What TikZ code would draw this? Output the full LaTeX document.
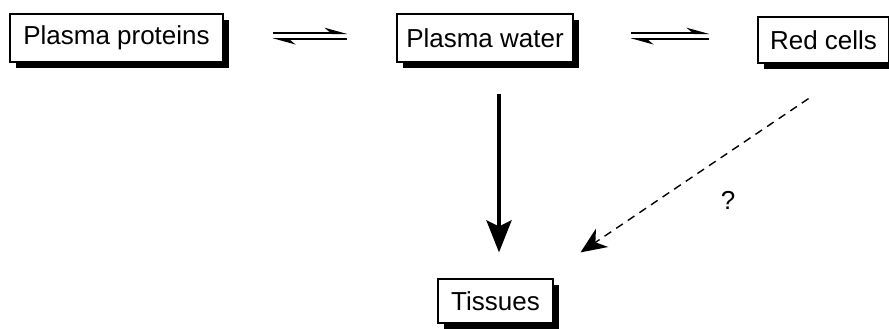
\documentclass[tikz,border=0pt]{standalone}
\usepackage{fontspec}
\setmainfont{Liberation Sans}
\usetikzlibrary{arrows.meta,shadows}

\begin{document}
\begin{tikzpicture}[x=0.5pt,y=-0.5pt,
    box/.style={draw,line width=0.6pt,fill=white,inner sep=0pt,
      font=\fontsize{13}{15}\selectfont,
      general shadow={fill=black,shadow xshift=3pt,shadow yshift=-3pt}},
    eq/.style={line width=0.8pt,-{Stealth[harpoon,length=10pt,width=5.5pt]}},
    flow/.style={line width=2.2pt,-{Stealth[length=16pt,width=12.5pt,inset=3pt]}},
    maybe/.style={line width=0.7pt,dash pattern=on 4pt off 3pt,
      -{Stealth[length=13pt,width=11pt,inset=4pt]}}]
      \useasboundingbox (0,0) rectangle (889,328);
      \node[box,minimum width=106.5pt,minimum height=24pt] (proteins) at (116.5,38) {Plasma proteins};
      \node[box,minimum width=88pt,minimum height=24pt] (water) at (485,38) {Plasma water};
      \node[box,minimum width=65.5pt,minimum height=23pt] (red) at (823.5,40) {Red cells};
      \node[box,minimum width=57.5pt,minimum height=22pt] (tissues) at (495.5,301) {Tissues};
      \node[font=\fontsize{13}{15}\selectfont] (query) at (728,200) {?};
      % equilibria
      \draw[eq] ([xshift=24.5pt,yshift=2.4pt]proteins.east) -- ([xshift=-24.5pt,yshift=2.4pt]water.west);
      \draw[eq] ([xshift=-24.5pt,yshift=-0.5pt]water.west) -- ([xshift=24.5pt,yshift=-0.5pt]proteins.east);
      \draw[eq] ([xshift=28.5pt,yshift=2.4pt]water.east) -- ([xshift=-24pt,yshift=3.4pt]red.west);
      \draw[eq] ([xshift=-24pt,yshift=0.5pt]red.west) -- ([xshift=28.5pt,yshift=-0.5pt]water.east);
      % uptake by the tissues
      \draw[flow] ([xshift=7pt,yshift=-15.5pt]water.south) -- ([xshift=1.75pt,yshift=13pt]tissues.north);
      \draw[maybe] ([xshift=-7.5pt,yshift=-17.5pt]red.south) -- ([xshift=42.5pt,yshift=13pt]tissues.north);
    \end{tikzpicture}
\end{document}
